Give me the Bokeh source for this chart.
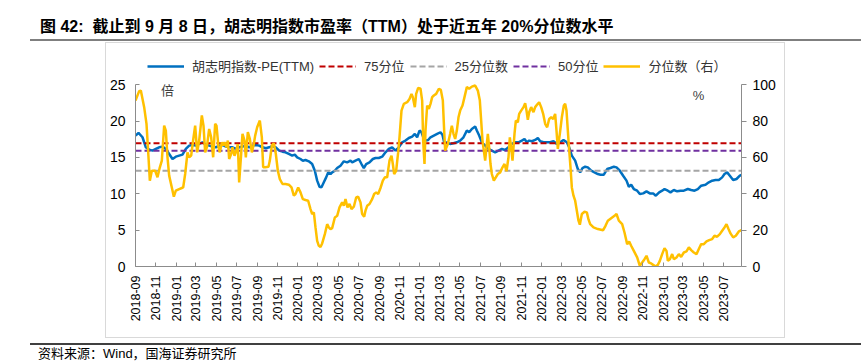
import math
import pandas as pd
from bokeh.plotting import figure
from bokeh.layouts import column
from bokeh.models import (Range1d, LinearAxis, FixedTicker, Label, Legend, LegendItem,
                          ColumnDataSource, Div)
from bokeh.embed import file_html
from bokeh.resources import INLINE

# ---------------- data ----------------
START = "2018-09-07"   # first observation; x values are days since START
END_DAY = 1818

pe_days = [0, 9, 21, 31, 41, 51, 61, 71, 81, 91, 101, 111, 121, 131, 141, 151, 161, 171, 181, 191,
           201, 211, 221, 231, 241, 251, 261, 271, 281, 291, 301, 311, 321, 331, 341, 351, 361, 371,
           381, 391, 401, 411, 421, 431, 441,
           450, 460, 470, 478, 485, 495, 502, 510, 520, 530, 538, 545, 552, 558, 565, 572, 578, 585,
           590, 598, 605, 615, 625, 635, 645, 650, 660, 670, 678, 685, 692, 702, 712, 720, 730, 740,
           750, 760, 770, 780, 790, 800, 810, 820, 830, 838, 845, 852, 858, 865, 870, 878, 885, 895,
           905, 915, 921, 927,
           934, 944, 954, 964, 974, 984, 994, 1001, 1009, 1019, 1024, 1031, 1039, 1049, 1059, 1069,
           1079, 1089, 1099, 1109, 1119, 1129, 1139, 1149, 1159, 1167, 1174, 1181, 1189, 1199, 1207,
           1214, 1224, 1234, 1244, 1254, 1264, 1274, 1284, 1294, 1301, 1309, 1319, 1327, 1334, 1341,
           1349, 1357, 1367, 1377, 1387,
           1395, 1405, 1415, 1425, 1435, 1443, 1453, 1463, 1473, 1480, 1487, 1495, 1505, 1513, 1523,
           1533, 1543, 1553, 1561, 1571, 1580, 1587, 1597, 1605, 1615, 1625, 1635, 1645, 1657, 1667,
           1677, 1687, 1697, 1710, 1720, 1730, 1740, 1750, 1760, 1767, 1775, 1783, 1793, 1803, 1813,
           1818]
pe_vals = [18.0, 18.37, 17.78, 16.4, 16.08, 15.94, 16.17, 16.4, 16.49, 16.17, 15.48, 14.79, 15.11,
           15.25, 15.39, 16.17, 16.63, 16.72, 16.63, 16.86, 17.09, 16.77, 16.63, 16.49, 16.4, 16.63,
           16.72, 16.49, 16.4, 16.4, 16.17, 16.4, 16.49, 16.63, 16.4, 16.63, 16.72, 16.63, 16.4,
           16.26, 16.4, 16.58, 16.4, 15.94, 15.8,
           15.71, 15.48, 15.25, 15.39, 15.02, 14.79, 14.56, 14.65, 14.47, 14.10, 13.18, 11.81, 10.98,
           10.89, 11.58, 12.26, 12.95, 12.72, 12.95, 13.18, 13.55, 13.87, 14.47, 14.33, 14.56, 14.33,
           14.56, 14.79, 14.10, 13.55, 14.10, 14.33, 14.79, 14.93, 14.93, 15.11, 15.71, 16.17, 16.40,
           15.94, 16.40, 17.09, 17.32, 17.68, 17.87, 18.24, 17.78, 18.70, 18.47, 17.55, 17.32, 17.41,
           17.78, 18.01, 18.24, 18.47, 18.10, 16.86,
           17.09, 16.86, 16.95, 17.09, 17.32, 17.78, 18.70, 18.47, 18.93, 19.25, 18.70, 18.01, 17.09,
           16.63, 16.17, 15.94, 15.71, 15.94, 16.17, 16.03, 16.40, 16.86, 17.09, 17.09, 17.32, 17.55,
           17.09, 17.32, 17.23, 17.41, 17.68, 17.23, 17.09, 17.09, 17.09, 17.23, 16.86, 17.09, 17.41,
           17.09, 16.40, 15.25, 14.56, 13.41, 12.95, 13.55, 13.73, 13.64, 13.18, 12.95, 12.72,
           12.63, 12.63, 13.41, 13.55, 13.73, 13.64, 13.18, 12.49, 11.81, 10.98, 11.25, 10.66, 10.43,
           9.97, 10.06, 10.34, 10.06, 10.06, 9.74, 10.20, 10.43, 10.66, 10.43, 10.20, 10.52, 10.34,
           10.43, 10.43, 10.66, 10.52, 10.43, 10.66, 11.12, 11.25, 11.58, 11.81, 11.90, 11.90, 12.26,
           12.72, 12.95, 12.49, 11.90, 12.04, 12.49, 12.59]

pct_days = [0, 11, 16, 26, 33, 39, 43, 49, 59, 66, 73, 79, 86, 91, 96, 101, 109, 115, 121, 131, 139,
            143, 149, 156, 161, 167, 173, 179, 185, 191, 199, 204, 209, 214, 221, 227, 233, 239, 243,
            249, 253, 259, 263, 267, 273, 277, 281, 287, 291, 297, 301, 307, 311, 317, 321, 327, 331,
            337, 343, 349, 355, 359, 365, 373, 379, 383, 389, 399, 403, 409, 415, 421, 427, 433, 441,
            450, 460, 468, 475, 480, 488, 495, 502, 510, 518, 525, 530, 535, 540, 545, 550, 555, 560,
            568, 575, 580, 585, 590, 598, 605, 612, 620, 625, 630, 636, 642, 648, 655, 662, 668, 675,
            680, 686, 690, 695, 702, 710, 716, 722, 728, 735, 742, 748, 755, 762, 768, 772, 776, 782,
            788, 792, 798, 805, 815, 822, 828, 832, 838, 842, 848, 855, 860, 863, 867, 870, 875, 880,
            885, 890, 895, 902, 910, 916, 922, 926, 929,
            937, 944, 949, 954, 959, 964, 969, 974, 981, 987, 994, 1001, 1009, 1019, 1027, 1033, 1037,
            1041, 1045, 1049, 1053, 1057, 1061, 1065, 1069, 1075, 1081, 1087, 1094, 1101, 1107, 1113,
            1119, 1123, 1127, 1131, 1137, 1141, 1147, 1151, 1157, 1164, 1169, 1173, 1177, 1181, 1187,
            1194, 1199, 1205, 1211, 1217, 1223, 1229, 1235, 1241, 1247, 1253, 1259, 1263, 1267, 1273,
            1279, 1285, 1289, 1293, 1299, 1305, 1309, 1314, 1319, 1324, 1329, 1333, 1339, 1347, 1354,
            1359, 1364, 1374, 1387,
            1403, 1410, 1417, 1427, 1437, 1443, 1450, 1460, 1467, 1475, 1481, 1487, 1495, 1505, 1513,
            1520, 1527, 1533, 1540, 1547, 1553, 1560, 1567, 1573, 1580, 1587, 1593, 1597, 1603, 1610,
            1615, 1623, 1630, 1637, 1645, 1653, 1660, 1667, 1675, 1683, 1690, 1697, 1705, 1713, 1721,
            1730, 1737, 1745, 1753, 1760, 1767, 1773, 1779, 1785, 1793, 1801, 1810, 1818]
pct_vals = [91.3, 96.5, 96.8, 87.7, 78.5, 60.1, 47.2, 52.7, 52.7, 49.1, 54.6, 58.3, 77.5, 74.8, 60.1,
            50.0, 43.5, 38.4, 41.7, 42.6, 43.2, 43.5, 50.9, 62.8, 60.1, 61.0, 69.6, 77.5, 62.8, 69.3,
            83.1, 77.5, 62.8, 65.6, 75.7, 71.1, 60.1, 78.5, 77.5, 65.6, 62.8, 68.4, 66.5, 68.4, 65.6,
            69.3, 59.2, 61.9, 65.6, 61.0, 62.8, 67.4, 46.3, 61.9, 73.0, 69.3, 60.1, 73.9, 70.2, 62.8,
            67.4, 72.0, 76.6, 80.3, 71.1, 54.6, 54.6, 54.9, 58.3, 66.5, 67.8, 61.9, 52.7, 48.1, 45.4,
            45.4, 45.0, 43.5, 39.0, 39.9, 43.5, 40.8, 37.1, 36.6, 36.2, 31.6, 28.9, 29.8, 21.5, 14.1,
            11.4, 10.8, 12.7, 17.8, 23.3, 21.5, 20.6, 21.1, 27.0, 27.9, 32.5, 35.3, 33.4, 37.1, 32.5,
            34.4, 31.6, 32.9, 38.0, 38.4, 35.3, 28.9, 27.4, 30.7, 33.4, 34.4, 37.1, 39.9, 40.8, 39.9,
            43.2, 47.2, 49.1, 49.1, 58.3, 61.0, 56.4, 50.9, 52.7, 62.8, 71.1, 85.8, 89.5, 90.4, 92.2,
            95.0, 93.2, 87.7, 95.0, 98.3, 97.8, 91.3, 69.3, 56.4, 74.8, 88.6, 86.7, 89.5, 93.2, 94.1,
            95.0, 97.8, 97.2, 91.3, 74.8, 63.8,
            67.4, 73.0, 77.5, 73.0, 70.2, 74.8, 82.1, 85.8, 88.6, 93.2, 98.7, 97.8, 99.0, 99.6, 96.8,
            91.3, 80.3, 69.3, 63.8, 58.3, 65.6, 73.0, 65.6, 56.4, 50.9, 47.2, 49.1, 50.9, 51.8, 54.6,
            56.4, 52.4, 60.1, 71.1, 65.6, 58.3, 73.0, 80.3, 79.4, 84.0, 85.8, 87.7, 89.9, 85.8, 80.7,
            84.9, 87.7, 84.9, 87.7, 89.1, 90.4, 87.7, 84.0, 78.5, 76.6, 81.2, 82.1, 81.2, 84.0, 74.8,
            64.7, 73.0, 82.1, 88.6, 89.5, 85.8, 69.3, 54.6, 43.5, 39.0, 36.2, 30.7, 25.2, 23.0, 28.9,
            30.1, 29.8, 25.9, 23.3, 21.5, 20.6,
            20.0, 22.4, 25.2, 26.6, 27.9, 28.9, 25.2, 23.3, 18.7, 12.3, 13.8, 11.4, 8.6, 5.0, 0.4, 2.2,
            4.0, 5.9, 2.2, 1.7, 0.9, 0.0, 0.9, 3.1, 6.8, 10.1, 8.6, 3.1, 4.0, 6.8, 4.0, 5.0, 6.8, 5.3,
            7.7, 8.3, 10.5, 9.0, 7.7, 6.8, 9.6, 12.3, 12.3, 13.8, 14.5, 15.1, 16.9, 16.4, 17.8, 19.7,
            21.5, 23.3, 20.6, 18.2, 16.0, 16.9, 19.3, 20.0]

P75 = 16.95
P50 = 15.94
P25 = 13.18

tick_labels = ["2018-09", "2018-11", "2019-01", "2019-03", "2019-05", "2019-07", "2019-09",
               "2019-11", "2020-01", "2020-03", "2020-05", "2020-07", "2020-09", "2020-11",
               "2021-01", "2021-03", "2021-05", "2021-07", "2021-09", "2021-11", "2022-01",
               "2022-03", "2022-05", "2022-07", "2022-09", "2022-11", "2023-01", "2023-03",
               "2023-05", "2023-07"]
left_ticks = [0, 5, 10, 15, 20, 25]
right_ticks = [0, 20, 40, 60, 80, 100]

TITLE = "图 42:&nbsp; 截止到 9 月 8 日，胡志明指数市盈率（TTM）处于近五年 20%分位数水平"
SOURCE = "资料来源：Wind，国海证券研究所"
names = ["胡志明指数-PE(TTM)", "75分位", "25分位数", "50分位", "分位数（右）"]

# ---------------- figure ----------------
FONT = "Liberation Sans, Noto Sans CJK SC"
CSSFONT = "'Liberation Sans', 'Noto Sans CJK SC', sans-serif"
start = pd.Timestamp(START)
tick_pos = [int((pd.Timestamp(t + "-07") - start).days) for t in tick_labels]

LEFT_TOP = 30.68          # frame reaches above the 25 line so the legend sits inside it
p = figure(width=678, height=294, output_backend="svg", toolbar_location=None,
           x_range=Range1d(0, END_DAY), y_range=Range1d(0, LEFT_TOP),
           min_border_left=29, min_border_right=43, min_border_top=0, min_border_bottom=71,
           margin=(0, 0, 0, 106),
           styles={"outline": "1px solid #d9d9d9", "outline-offset": "0px"})
p.extra_y_ranges = {"pct": Range1d(0, LEFT_TOP * 4)}
p.outline_line_color = None
p.xgrid.grid_line_color = None
p.ygrid.grid_line_color = None
p.background_fill_color = "white"
p.border_fill_color = "white"

AX = "#8c8c8c"
xa = p.xaxis[0]
xa.ticker = FixedTicker(ticks=tick_pos)
xa.major_label_overrides = {tp: lbl for tp, lbl in zip(tick_pos, tick_labels)}
xa.major_label_orientation = math.pi / 2
xa.major_tick_in = 4
xa.major_tick_out = 0
xa.minor_tick_line_color = None
xa.axis_line_color = AX
xa.major_tick_line_color = AX
xa.major_label_text_font = FONT
xa.major_label_text_font_size = "12.5px"
xa.major_label_text_color = "#000000"
xa.major_label_standoff = 9

ya = p.yaxis[0]
ya.ticker = FixedTicker(ticks=left_ticks)
ya.bounds = (0, 25)
ya.major_tick_in = 4
ya.major_tick_out = 0
ya.minor_tick_line_color = None
ya.axis_line_color = AX
ya.major_tick_line_color = AX
ya.major_label_text_font = FONT
ya.major_label_text_font_size = "14px"
ya.major_label_text_color = "#000000"
ya.major_label_standoff = 10

ra = LinearAxis(y_range_name="pct", ticker=FixedTicker(ticks=right_ticks), bounds=(0, 100))
ra.major_tick_in = 0
ra.major_tick_out = 5
ra.minor_tick_line_color = None
ra.axis_line_color = AX
ra.major_tick_line_color = AX
ra.major_label_text_font = FONT
ra.major_label_text_font_size = "14px"
ra.major_label_text_color = "#000000"
ra.major_label_standoff = 6
p.add_layout(ra, "right")

pe_src = ColumnDataSource(dict(x=pe_days, y=pe_vals))
pct_src = ColumnDataSource(dict(x=pct_days, y=pct_vals))
r_pe = p.line("x", "y", source=pe_src, line_color="#0070C0", line_width=2.5)
r75 = p.line([0, END_DAY], [P75, P75], line_color="#C00000", line_width=2, line_dash="6 3")
r25 = p.line([0, END_DAY], [P25, P25], line_color="#A5A5A5", line_width=2, line_dash="6 3")
r50 = p.line([0, END_DAY], [P50, P50], line_color="#7030A0", line_width=2, line_dash="6 3")
r_pct = p.line("x", "y", source=pct_src, line_color="#FFC000", line_width=2.5, y_range_name="pct")

legend = Legend(items=[LegendItem(label=n, renderers=[r]) for n, r in
                       zip(names, [r_pe, r75, r25, r50, r_pct])],
                orientation="horizontal", location=(12, 191), padding=0, margin=0, spacing=5,
                glyph_width=37, glyph_height=16, label_height=16, label_standoff=8,
                background_fill_alpha=0, border_line_color=None,
                label_text_font=FONT, label_text_font_size="13px", label_text_color="#333333")
p.add_layout(legend)

p.add_layout(Label(x=32, y=175.7, x_units="screen", y_units="screen", text="倍",
                   text_font=FONT, text_font_size="13px",
                   text_baseline="middle", text_align="center", text_color="#404040"))
p.add_layout(Label(x=563, y=170.7, x_units="screen", y_units="screen", text="%",
                   text_font=FONT, text_font_size="13px",
                   text_baseline="middle", text_align="center", text_color="#404040"))

title_html = (
    '<div style="position:relative;width:861px;height:43px;">'
    f'<span style="position:absolute;left:40px;top:17px;line-height:20px;white-space:nowrap;'
    f'font-family:{CSSFONT};font-size:16px;font-weight:bold;color:#000;">{TITLE}</span>'
    '<div style="position:absolute;left:30px;top:39px;width:831px;height:2px;'
    'background:#7f7f7f;"></div></div>')
footer_html = (
    '<div style="position:relative;width:861px;height:25px;">'
    '<div style="position:absolute;left:30px;top:6px;width:831px;height:1.5px;'
    'background:#404040;"></div>'
    f'<span style="position:absolute;left:38px;top:9px;line-height:16px;white-space:nowrap;'
    f'font-family:{CSSFONT};font-size:13px;color:#000;">{SOURCE}</span></div>')

title_div = Div(text=title_html, width=861, height=43, margin=(0, 0, 0, 0))
footer_div = Div(text=footer_html, width=861, height=25, margin=(0, 0, 0, 0))

page = column(title_div, p, footer_div, spacing=0)
open("out.html", "w").write(file_html(page, INLINE))
